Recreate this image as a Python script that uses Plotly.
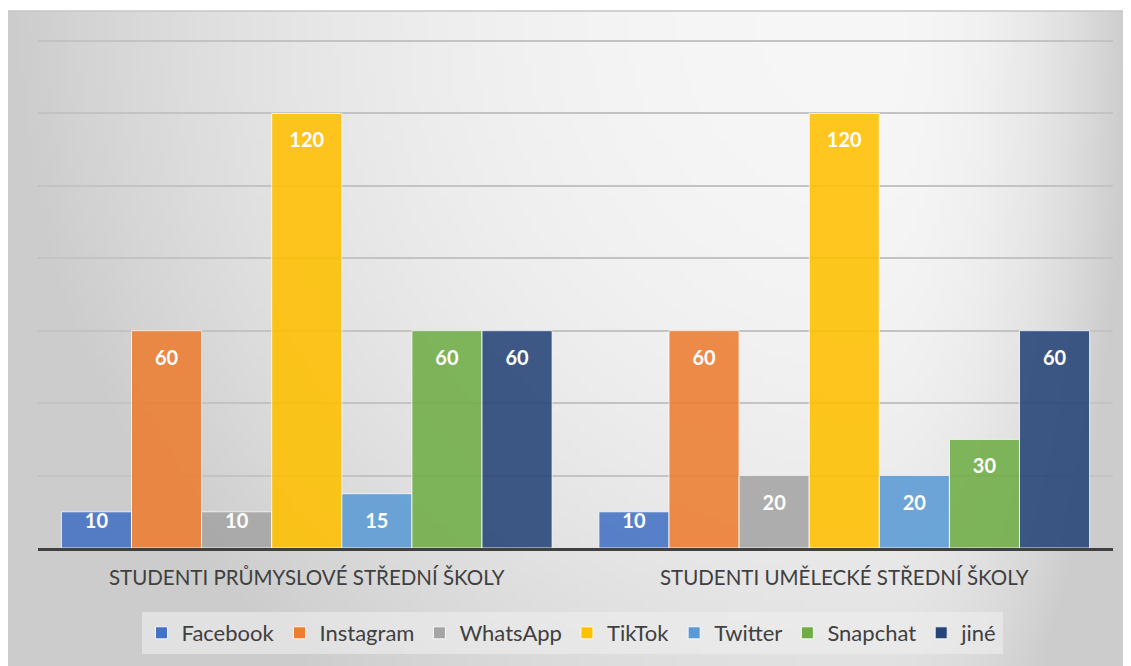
import base64, struct, zlib
import plotly.graph_objects as go

categories = ["STUDENTI PRŮMYSLOVÉ STŘEDNÍ ŠKOLY", "STUDENTI UMĚLECKÉ STŘEDNÍ ŠKOLY"]
series_names = ["Facebook", "Instagram", "WhatsApp", "TikTok", "Twitter", "Snapchat", "jiné"]
facebook = [10, 10]
instagram = [60, 60]
whatsapp = [10, 20]
tiktok = [120, 120]
twitter = [15, 20]
snapchat = [60, 30]
jine = [60, 60]
series_values = [facebook, instagram, whatsapp, tiktok, twitter, snapchat, jine]
colors = ["#4472C4", "#ED7D31", "#A5A5A5", "#FFC000", "#5B9BD5", "#70AD47", "#264478"]

# page is rendered with an 8px body margin, so work in figure coordinates
OFF = 8
W, H = 1131 - OFF, 666 - OFF
BG_T = 11 - OFF


def P(px):
    return px - OFF


def gradient_png(w, h):
    rows = []
    for j in range(h):
        py = BG_T + (H - BG_T) * j / (h - 1)
        row = bytearray([0])
        for i in range(w):
            px = W * i / (w - 1)
            cx = P(880.0)
            fx = (cx - px) / cx if px < cx else (px - cx) / (W - cx)
            fy = (py - BG_T) / (H - BG_T)
            d = min(1.0, (fx * fx + 0.55 * fy * fy) ** 0.5)
            v = int(round(246 - 42 * d ** 2.3))
            row += bytes([v, v, v])
        rows.append(bytes(row))
    raw = b"".join(rows)

    def chunk(t, data):
        c = struct.pack(">I", len(data)) + t + data
        return c + struct.pack(">I", zlib.crc32(t + data) & 0xFFFFFFFF)

    png = b"\x89PNG\r\n\x1a\n"
    png += chunk(b"IHDR", struct.pack(">IIBBBBB", w, h, 8, 2, 0, 0, 0))
    png += chunk(b"IDAT", zlib.compress(raw, 9))
    png += chunk(b"IEND", b"")
    return "data:image/png;base64," + base64.b64encode(png).decode()


fig = go.Figure()
gap = 0.087
for name, vals, col in zip(series_names, series_values, colors):
    fig.add_trace(go.Bar(
        x=categories, y=vals, name=name,
        marker=dict(color=col, opacity=0.88, line=dict(color="rgba(255,255,255,0.85)", width=1)),
        hoverinfo="x+y+name",
    ))
for name, vals in zip(series_names, series_values):
    fig.add_trace(go.Scatter(
        x=categories, y=[max(v - 8.0, 7.0) for v in vals], mode="text",
        text=[str(v) for v in vals], showlegend=False, hoverinfo="skip",
        textfont=dict(family="Lato", size=20, color="white", weight="bold"),
        textposition="middle center",
    ))

plot_h = H - BG_T
ymax = 140.4
top_px = 548 - 507 / 140 * ymax
fig.update_layout(
    width=W, height=H,
    margin=dict(l=0, r=0, t=BG_T, b=0, pad=0),
    paper_bgcolor="white",
    plot_bgcolor="rgba(0,0,0,0)",
    barmode="group", bargap=gap, bargroupgap=0,
    scattermode="group", scattergap=gap,
    font=dict(family="Lato", color="#404040"),
    xaxis=dict(
        domain=[P(38) / W, P(1113) / W],
        showline=True, linecolor="#404040", linewidth=3,
        ticks="", tickfont=dict(size=20.5, color="#404040"),
        ticklabelstandoff=9, showgrid=False,
    ),
    yaxis=dict(
        domain=[(H - P(548)) / plot_h, (H - P(top_px)) / plot_h],
        range=[0, ymax], dtick=20, showticklabels=False,
        showgrid=True, gridcolor="#c3c3c3", gridwidth=1.5,
        zeroline=False, showline=False, ticks="",
    ),
    legend=dict(
        orientation="h", x=P(572) / W, xanchor="center",
        y=(H - P(612)) / plot_h, yanchor="top",
        bgcolor="rgba(238,238,238,0.6)",
        font=dict(size=22, color="#404040"),
        itemclick=False,
    ),
    images=[dict(
        source=gradient_png(160, 94), xref="paper", yref="paper",
        x=0, y=1, sizex=1, sizey=1, xanchor="left", yanchor="top",
        sizing="stretch", layer="below",
    )],
    shapes=[dict(type="line", xref="paper", yref="paper", x0=0, x1=1, y0=1, y1=1,
                 line=dict(color="#c6c6c6", width=1.5))],
)

fig.write_html("out.html")
